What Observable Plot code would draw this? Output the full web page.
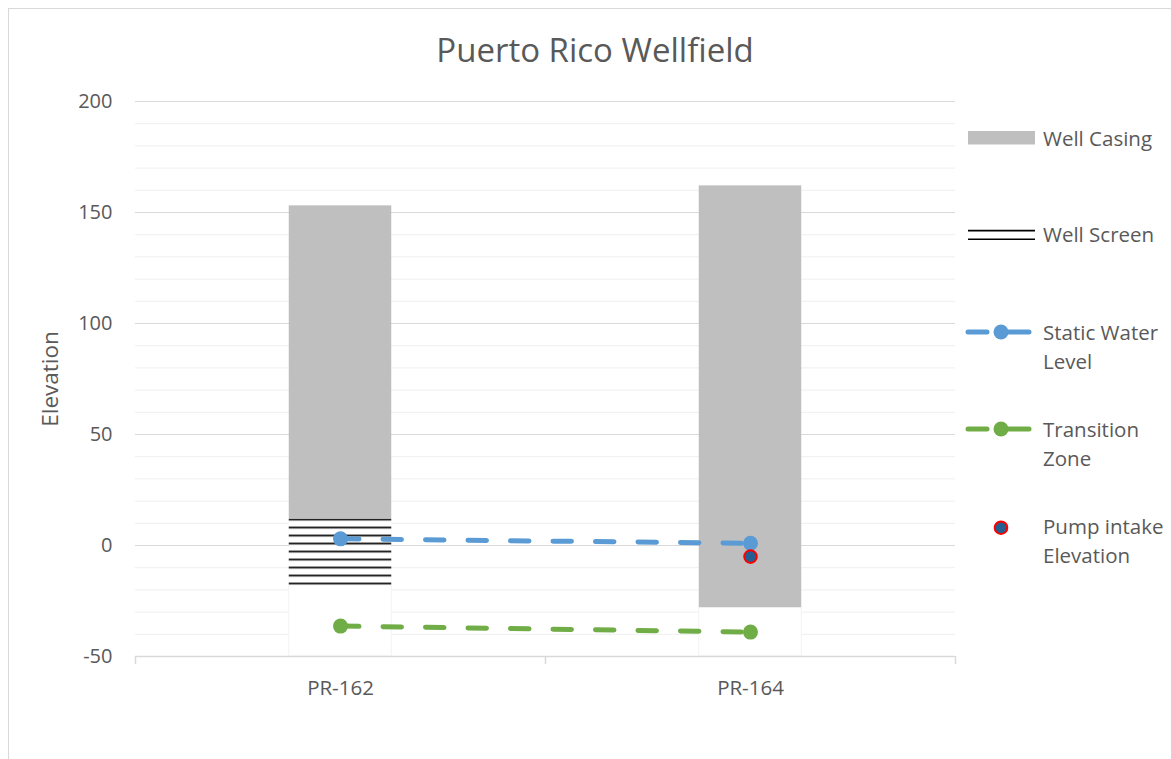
<!DOCTYPE html>
<html><head><meta charset="utf-8">
<script src="https://cdn.jsdelivr.net/npm/d3@7"></script>
<script src="https://cdn.jsdelivr.net/npm/@observablehq/plot@0.6"></script>
<style>
body{margin:0;background:#fff;}
#wrap{position:relative;width:1171px;height:759px;overflow:hidden;font-family:"Open Sans",sans-serif;background:#fff;}
#frame{position:absolute;left:8px;top:8px;width:1300px;height:900px;border:1.3px solid #d9d9d9;box-sizing:border-box;}
#title{position:absolute;left:0;width:1190px;text-align:center;top:33px;font-size:33px;line-height:33px;color:#595959;white-space:nowrap;}
#chart{position:absolute;left:0;top:0;}
#legend{position:absolute;left:0;top:0;pointer-events:none;}
</style></head><body>
<div id="wrap"><div id="frame"></div><div id="chart"></div><div id="title">Puerto Rico Wellfield</div>
<svg id="legend" width="1171" height="759" font-family="Open Sans" font-size="20.5" fill="#595959"></svg></div>
<script>
// ---- data ----
const wells = ["PR-162", "PR-164"];
const casingTop = [153, 162];
const casingBottom = [12, -28];
const screenTop = [12, null];
const screenBottom = [-18, null];
const staticWater = [3, 1];
const transitionZone = [-36.3, -39];
const pumpIntake = [null, -5];
const yMin = -50, yMax = 200;
const yTicks = [-50, 0, 50, 100, 150, 200];
const yMinorTicks = [-40, -30, -20, -10, 10, 20, 30, 40, 60, 70, 80, 90, 110, 120, 130, 140, 160, 170, 180, 190];

// ---- layout ----
const W = 1171, H = 759;
const mL = 135, mR = 216, mT = 101, mB = 103;
const bw = (W - mL - mR) / wells.length;
const inset = bw * 0.375;

const rows = wells.map((w, i) => ({
  well: w,
  casingTop: casingTop[i], casingBottom: casingBottom[i],
  screenTop: screenTop[i], screenBottom: screenBottom[i],
  lowest: screenBottom[i] ?? casingBottom[i],
  staticWater: staticWater[i], transitionZone: transitionZone[i], pumpIntake: pumpIntake[i]
}));
const screenRows = rows.filter(d => d.screenTop != null);
const pumpRows = rows.filter(d => d.pumpIntake != null);

const blue = "#5b9bd5", green = "#70ad47";

const plot = Plot.plot({
  width: W, height: H,
  marginLeft: mL, marginRight: mR, marginTop: mT, marginBottom: mB,
  style: {fontFamily: "Open Sans", fontSize: "20px", color: "#595959", background: "transparent"},
  x: {type: "band", domain: wells, padding: 0},
  y: {domain: [yMin, yMax]},
  marks: [
    Plot.ruleY(yMinorTicks, {stroke: "#efefef", strokeWidth: 1}),
    Plot.ruleY(yTicks.filter(t => t > yMin), {stroke: "#d9d9d9", strokeWidth: 1.2}),
    Plot.barY(rows, {x: "well", y1: () => yMin, y2: "lowest", fill: "white", stroke: "#f3f3f3", strokeWidth: 1, insetLeft: inset, insetRight: inset}),
    Plot.barY(rows, {x: "well", y1: "casingBottom", y2: "casingTop", fill: "#bfbfbf", insetLeft: inset, insetRight: inset}),
    Plot.barY(screenRows, {x: "well", y1: "screenBottom", y2: "screenTop", fill: "url(#screenPattern)", insetLeft: inset, insetRight: inset}),
    Plot.ruleY([yMin], {stroke: "#d9d9d9", strokeWidth: 1.5}),
    Plot.ruleX(wells, {x: d => d, y1: yMin, y2: yMin, insetBottom: -8, dx: -bw / 2, stroke: "#d9d9d9", strokeWidth: 1.5}),
    Plot.ruleX(wells.slice(-1), {x: d => d, y1: yMin, y2: yMin, insetBottom: -8, dx: bw / 2, stroke: "#d9d9d9", strokeWidth: 1.5}),
    Plot.line(rows, {x: "well", y: "staticWater", stroke: blue, strokeWidth: 5, strokeDasharray: "18.5,24", strokeLinecap: "round"}),
    Plot.dot(rows, {x: "well", y: "staticWater", r: 7.5, fill: blue}),
    Plot.line(rows, {x: "well", y: "transitionZone", stroke: green, strokeWidth: 5, strokeDasharray: "18.5,24", strokeLinecap: "round"}),
    Plot.dot(rows, {x: "well", y: "transitionZone", r: 7.5, fill: green}),
    Plot.dot(pumpRows, {x: "well", y: "pumpIntake", r: 6.3, fill: "#255e91", stroke: "#ff0000", strokeWidth: 2}),
    Plot.axisY({ticks: yTicks, tickSize: 0, tickPadding: 23, tickFormat: d => String(d), label: null}),
    Plot.axisY({ticks: [], tickSize: 0, label: "Elevation", labelAnchor: "center", labelOffset: 93, labelArrow: "none", fontSize: "22.5px"}),
    Plot.axisX({tickSize: 0, tickPadding: 24, label: null, fontSize: "20.5px"})
  ]
});

// striped pattern for the well screen
const svg = d3.select(plot);
const yPx = plot.scale("y").apply(screenTop[0]);
const defs = svg.insert("defs", ":first-child");
const pat = defs.append("pattern").attr("id", "screenPattern").attr("patternUnits", "userSpaceOnUse")
  .attr("x", 0).attr("y", yPx).attr("width", 8).attr("height", 8);
pat.append("rect").attr("width", 8).attr("height", 8).attr("fill", "white");
pat.append("rect").attr("y", 0.4).attr("width", 8).attr("height", 1.7).attr("fill", "black");

document.getElementById("chart").appendChild(plot);

// ---- legend ----
const lg = d3.select("#legend");
const lx = 968, tx = 1043;
lg.append("rect").attr("x", lx).attr("y", 131).attr("width", 67).attr("height", 13.5).attr("fill", "#bfbfbf");
lg.append("text").attr("x", tx).attr("y", 145.5).text("Well Casing");
lg.append("line").attr("x1", lx).attr("x2", lx + 67).attr("y1", 230.7).attr("y2", 230.7).attr("stroke", "black").attr("stroke-width", 1.7);
lg.append("line").attr("x1", lx).attr("x2", lx + 67).attr("y1", 239.3).attr("y2", 239.3).attr("stroke", "black").attr("stroke-width", 1.4);
lg.append("text").attr("x", tx).attr("y", 242).text("Well Screen");
function lineSwatch(y, color) {
  lg.append("line").attr("x1", 968).attr("x2", 987).attr("y1", y).attr("y2", y).attr("stroke", color).attr("stroke-width", 5).attr("stroke-linecap", "round");
  lg.append("line").attr("x1", 1001).attr("x2", 1029).attr("y1", y).attr("y2", y).attr("stroke", color).attr("stroke-width", 5).attr("stroke-linecap", "round");
  lg.append("circle").attr("cx", 1001).attr("cy", y).attr("r", 7.5).attr("fill", color);
}
lineSwatch(332, blue);
lg.append("text").attr("x", tx).attr("y", 339.5).text("Static Water");
lg.append("text").attr("x", tx).attr("y", 369).text("Level");
lineSwatch(429, green);
lg.append("text").attr("x", tx).attr("y", 436.7).text("Transition");
lg.append("text").attr("x", tx).attr("y", 465.7).text("Zone");
lg.append("circle").attr("cx", 1001).attr("cy", 527.7).attr("r", 6.3).attr("fill", "#255e91").attr("stroke", "#ff0000").attr("stroke-width", 2);
lg.append("text").attr("x", tx).attr("y", 533.5).text("Pump intake");
lg.append("text").attr("x", tx).attr("y", 563).text("Elevation");
</script>
</body></html>
